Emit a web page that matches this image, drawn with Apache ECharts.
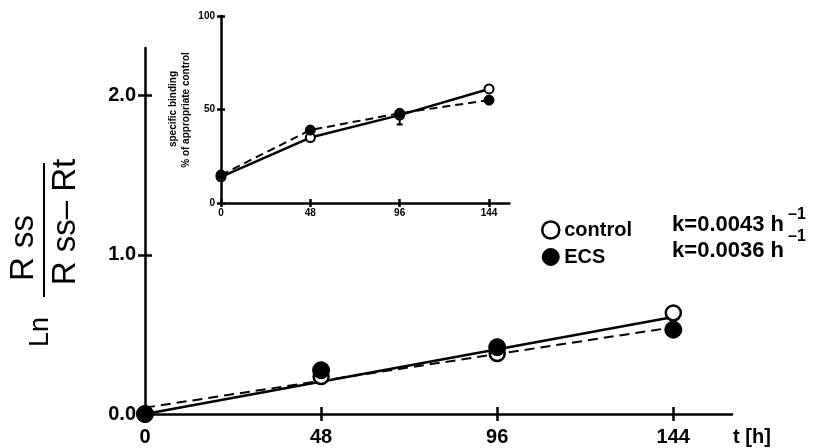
<!DOCTYPE html>
<html><head><meta charset="utf-8">
<script src="https://cdn.jsdelivr.net/npm/echarts@6/dist/echarts.min.js"></script>
<style>html,body{margin:0;padding:0;background:#fff}#c{width:814px;height:448px}</style>
</head><body><div id="c"></div>
<script>
// ---- data ----
const hours = [0, 48, 96, 144];
const mainControl = [0, 0.235, 0.38, 0.635];
const mainECS = [0, 0.275, 0.42, 0.53];
const fitHours = [0, 144];
const fitControl = [0, 0.61];
const fitECS = [0.04, 0.545];
const mainYTicks = [0, 1, 2];
const insetControl = [14, 35, 47, 61];
const insetECS = [15, 39, 48, 55];
const insetYTicks = [0, 50, 100];
const insetErrHours = [96];
const insetErrLow = [42];
const insetErrHigh = [48];
const seriesNames = ['control', 'ECS'];
const rateLabels = ['k=0.0043 h', 'k=0.0036 h'];

const FF = 'Liberation Sans, Arial, sans-serif';
const zip = (xs, ys) => xs.map((x, i) => [x, ys[i]]);

const openStyle = { color: '#fff', borderColor: '#000', borderWidth: 2.5, opacity: 1 };
const fillStyle = { color: '#000', borderColor: '#000', borderWidth: 1, opacity: 1 };

function xAxisPair(gi, max, ticks, fontSize, margin, tickLen, lw) {
  return [
    { type: 'value', gridIndex: gi, min: 0, max: max,
      axisLine: { lineStyle: { color: '#000', width: lw } },
      axisTick: { customValues: ticks, length: tickLen, lineStyle: { color: '#000', width: lw } },
      axisLabel: { customValues: ticks, color: '#000', fontFamily: FF, fontWeight: 'bold', fontSize: fontSize, margin: margin },
      splitLine: { show: false } },
    { type: 'value', gridIndex: gi, min: 0, max: max, position: 'bottom',
      axisLine: { show: false },
      axisTick: { customValues: ticks, inside: true, length: tickLen, lineStyle: { color: '#000', width: lw } },
      axisLabel: { show: false }, splitLine: { show: false } }
  ];
}
function yAxisPair(gi, max, ticks, fontSize, margin, tickLen, lw, fmt) {
  return [
    { type: 'value', gridIndex: gi, min: 0, max: max, position: 'left',
      axisLine: { lineStyle: { color: '#000', width: lw } },
      axisTick: { customValues: ticks, length: tickLen, lineStyle: { color: '#000', width: lw } },
      axisLabel: { customValues: ticks, color: '#000', fontFamily: FF, fontWeight: 'bold', fontSize: fontSize, margin: margin, formatter: fmt },
      splitLine: { show: false } },
    { type: 'value', gridIndex: gi, min: 0, max: max, position: 'left',
      axisLine: { show: false },
      axisTick: { customValues: ticks, inside: true, length: tickLen, lineStyle: { color: '#000', width: lw } },
      axisLabel: { show: false }, splitLine: { show: false } }
  ];
}

const chart = echarts.init(document.getElementById('c'), null, { renderer: 'canvas' });
chart.setOption({
  animation: false,
  backgroundColor: '#fff',
  grid: [
    { left: 145, right: 82, top: 48, bottom: 34 },
    { left: 221, right: 304.5, top: 16, bottom: 245 }
  ],
  xAxis: [
    ...xAxisPair(0, 160, hours, 20, 13, 7, 2.5),
    ...xAxisPair(1, 155, hours, 10, 5, 4, 2.5)
  ],
  yAxis: [
    ...yAxisPair(0, 2.3, mainYTicks, 20, 9, 7, 2.5, v => v.toFixed(1)),
    ...yAxisPair(1, 100, insetYTicks, 10, 6, 4, 2.5, v => String(v))
  ],
  legend: {
    orient: 'vertical', left: 536, top: 215, itemGap: 7,
    itemWidth: 17, itemHeight: 17, icon: 'circle',
    textStyle: { color: '#000', fontFamily: FF, fontWeight: 'bold', fontSize: 20, lineHeight: 17 },
    data: [
      { name: seriesNames[0], itemStyle: openStyle },
      { name: seriesNames[1], itemStyle: fillStyle }
    ]
  },
  series: [
    { name: 'fit control', type: 'line', xAxisIndex: 0, yAxisIndex: 0, data: zip(fitHours, fitControl),
      showSymbol: false, lineStyle: { color: '#000', width: 2.5 }, z: 2 },
    { name: 'fit ECS', type: 'line', xAxisIndex: 0, yAxisIndex: 0, data: zip(fitHours, fitECS),
      showSymbol: false, lineStyle: { color: '#000', width: 2, type: [10, 6] }, z: 2 },
    { name: seriesNames[0], type: 'scatter', xAxisIndex: 0, yAxisIndex: 0, data: zip(hours, mainControl),
      symbol: 'circle', symbolSize: 15, itemStyle: openStyle, z: 3 },
    { name: seriesNames[1], type: 'scatter', xAxisIndex: 0, yAxisIndex: 0, data: zip(hours, mainECS),
      symbol: 'circle', symbolSize: 17, itemStyle: fillStyle, z: 4 },
    { name: seriesNames[0], type: 'line', xAxisIndex: 2, yAxisIndex: 2, data: zip(hours, insetControl),
      symbol: 'circle', symbolSize: 9, showAllSymbol: true, itemStyle: { color: '#fff', borderColor: '#000', borderWidth: 2, opacity: 1 },
      lineStyle: { color: '#000', width: 2.5 }, z: 3 },
    { name: seriesNames[1], type: 'line', xAxisIndex: 2, yAxisIndex: 2, data: zip(hours, insetECS),
      symbol: 'circle', symbolSize: 10, showAllSymbol: true, itemStyle: fillStyle,
      lineStyle: { color: '#000', width: 2, type: [8, 5] }, z: 4 },
    { name: 'err', type: 'custom', xAxisIndex: 2, yAxisIndex: 2,
      data: insetErrHours.map((h, i) => [h, insetErrLow[i], insetErrHigh[i]]),
      renderItem: function (params, api) {
        const lo = api.coord([api.value(0), api.value(1)]);
        const hi = api.coord([api.value(0), api.value(2)]);
        return { type: 'group', children: [
          { type: 'line', shape: { x1: lo[0], y1: lo[1], x2: hi[0], y2: hi[1] }, style: { stroke: '#000', lineWidth: 2 } },
          { type: 'line', shape: { x1: lo[0] - 3, y1: lo[1], x2: lo[0] + 3, y2: lo[1] }, style: { stroke: '#000', lineWidth: 2 } }
        ] };
      }, z: 2 }
  ],
  graphic: [
    { type: 'text', x: 41, y: 332, rotation: Math.PI / 2,
      style: { text: 'Ln', font: '27px ' + FF, fill: '#000', align: 'center', verticalAlign: 'middle' } },
    { type: 'text', x: 24, y: 248, rotation: Math.PI / 2,
      style: { text: 'R ss', font: '33px ' + FF, fill: '#000', align: 'center', verticalAlign: 'middle' } },
    { type: 'line', shape: { x1: 44, y1: 163, x2: 44, y2: 297 }, style: { stroke: '#000', lineWidth: 2 } },
    { type: 'text', x: 66, y: 222, rotation: Math.PI / 2,
      style: { text: 'R ss\u2013 Rt', font: '33px ' + FF, fill: '#000', align: 'center', verticalAlign: 'middle' } },
    { type: 'text', x: 752, y: 437,
      style: { text: 't [h]', font: 'bold 20px ' + FF, fill: '#000', align: 'center', verticalAlign: 'middle' } },
    { type: 'text', x: 784, y: 225,
      style: { text: rateLabels[0], font: 'bold 22px ' + FF, fill: '#000', align: 'right', verticalAlign: 'middle' } },
    { type: 'text', x: 797, y: 215,
      style: { text: '\u20131', font: 'bold 16px ' + FF, fill: '#000', align: 'center', verticalAlign: 'middle' } },
    { type: 'text', x: 784, y: 251,
      style: { text: rateLabels[1], font: 'bold 22px ' + FF, fill: '#000', align: 'right', verticalAlign: 'middle' } },
    { type: 'text', x: 797, y: 237,
      style: { text: '\u20131', font: 'bold 16px ' + FF, fill: '#000', align: 'center', verticalAlign: 'middle' } },
    { type: 'text', x: 173, y: 109, rotation: Math.PI / 2,
      style: { text: 'specific binding', font: 'bold 10px ' + FF, fill: '#000', align: 'center', verticalAlign: 'middle' } },
    { type: 'text', x: 186, y: 110, rotation: Math.PI / 2,
      style: { text: '% of appropriate control', font: 'bold 10px ' + FF, fill: '#000', align: 'center', verticalAlign: 'middle' } }
  ]
});
</script>
</body></html>
